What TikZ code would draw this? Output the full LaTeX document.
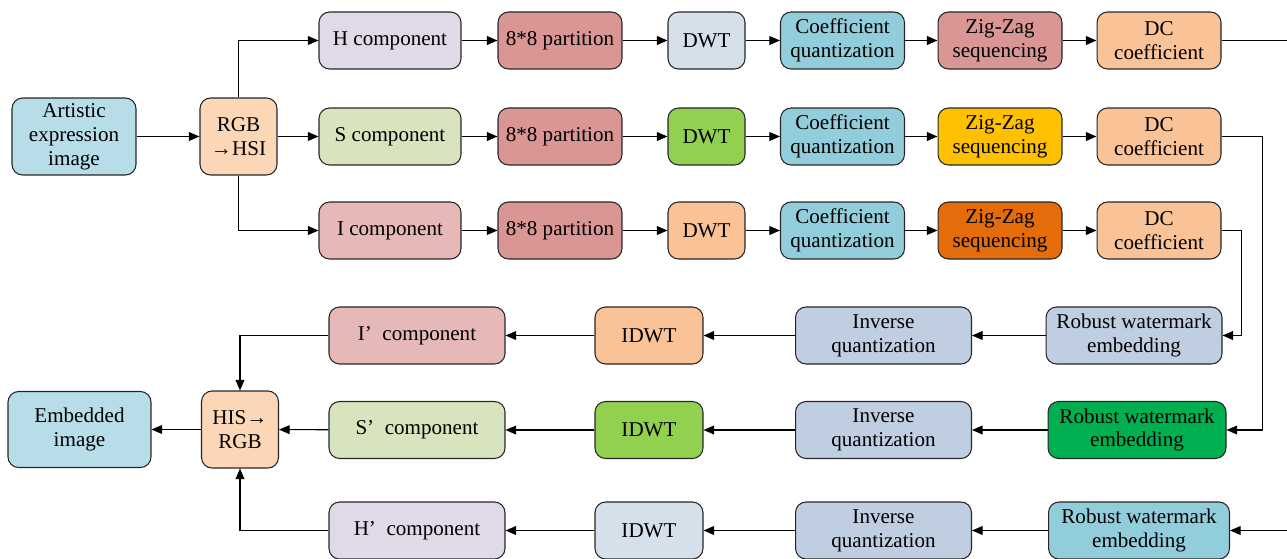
\documentclass[tikz,border=0pt]{standalone}
\usepackage{fontspec}
\setmainfont{Liberation Serif}
\usetikzlibrary{arrows.meta}
\definecolor{imgblue}{HTML}{B7DDE8}
\definecolor{convpeach}{HTML}{FBD7B8}
\definecolor{hlav}{HTML}{E0D9E7}
\definecolor{rose}{HTML}{D99694}
\definecolor{paleblue}{HTML}{D6E0EB}
\definecolor{teal}{HTML}{92CDDC}
\definecolor{dcpeach}{HTML}{FAC397}
\definecolor{sgreen}{HTML}{D7E4BD}
\definecolor{lime}{HTML}{92D050}
\definecolor{amber}{HTML}{FFC000}
\definecolor{ipink}{HTML}{E6B9B8}
\definecolor{deeporange}{HTML}{E46C0A}
\definecolor{greyblue}{HTML}{C0CEE2}
\definecolor{wmgreen}{HTML}{00B050}
\begin{document}
\begin{tikzpicture}[x=0.02cm,y=-0.02cm]
  \useasboundingbox (0,0) rectangle (1287,558);
  \clip (0,0) rectangle (1287,558);
  \tikzset{cw/.style={minimum width=2.84cm},
    bw/.style={minimum width=2.48cm},
    dw/.style={minimum width=1.54cm},
    pw/.style={minimum width=3.52cm},
    iw/.style={minimum width=2.16cm}}
  \begin{scope}[every node/.style={draw=black!85,line width=0.6pt,rounded corners=6pt,
      align=center,inner sep=1pt,minimum height=1.14cm,
      font=\fontsize{12}{13.6}\selectfont}]
  % input side
  \node[fill=imgblue,bw,minimum height=1.54cm] (art) at (74,136.5) {Artistic\\expression\\image};
  \node[fill=convpeach,dw,minimum height=1.54cm] (rgb) at (238.5,136.5) {RGB\\→HSI};
  % H row
  \node[fill=hlav,cw] (hc) at (390,40.5) {H component};
  \node[fill=rose,bw] (hp) at (560,40.5) {8*8 partition};
  \node[fill=paleblue,dw] (hd) at (706.5,40.5) {DWT};
  \node[fill=teal,bw] (hq) at (842.5,40.5) {Coefficient\\quantization};
  \node[fill=rose,bw] (hz) at (1000,40.5) {Zig-Zag\\sequencing};
  \node[fill=dcpeach,bw] (hdc) at (1159,40.5) {DC\\coefficient};
  % S row
  \node[fill=sgreen,cw] (sc) at (390,136.5) {S component};
  \node[fill=rose,bw] (sp) at (560,136.5) {8*8 partition};
  \node[fill=lime,dw] (sd) at (706.5,136.5) {DWT};
  \node[fill=teal,bw] (sq) at (842.5,136.5) {Coefficient\\quantization};
  \node[fill=amber,bw] (sz) at (1000,136.5) {Zig-Zag\\sequencing};
  \node[fill=dcpeach,bw] (sdc) at (1159,136.5) {DC\\coefficient};
  % I row
  \node[fill=ipink,cw] (ic) at (390,230.5) {I component};
  \node[fill=rose,bw] (ip) at (560,230.5) {8*8 partition};
  \node[fill=dcpeach,dw] (id) at (706.5,230.5) {DWT};
  \node[fill=teal,bw] (iq) at (842.5,230.5) {Coefficient\\quantization};
  \node[fill=deeporange,bw] (iz) at (1000,230.5) {Zig-Zag\\sequencing};
  \node[fill=dcpeach,bw] (idc) at (1159,230.5) {DC\\coefficient};
  % embedding rows
  \node[fill=greyblue,pw] (iwm) at (1134,335.5) {Robust watermark\\embedding};
  \node[fill=greyblue,pw] (iinv) at (883.5,335.5) {Inverse\\quantization};
  \node[fill=dcpeach,iw] (iidwt) at (649,335.5) {IDWT};
  \node[fill=ipink,pw] (inew) at (417,335.5) {I’\enspace component};
  \node[fill=wmgreen,pw,minimum width=3.56cm] (swm) at (1137,430) {Robust watermark\\embedding};
  \node[fill=greyblue,pw] (sinv) at (883.5,430) {Inverse\\quantization};
  \node[fill=lime,iw] (sidwt) at (649,430) {IDWT};
  \node[fill=sgreen,pw] (snew) at (417,430) {S’\enspace component};
  \node[fill=teal,pw,minimum width=3.62cm] (hwm) at (1139,530.5) {Robust watermark\\embedding};
  \node[fill=greyblue,pw] (hinv) at (883.5,530.5) {Inverse\\quantization};
  \node[fill=paleblue,iw] (hidwt) at (649,530.5) {IDWT};
  \node[fill=hlav,pw] (hnew) at (417,530.5) {H’\enspace component};
  % output side
  \node[fill=convpeach,dw,minimum height=1.54cm] (his) at (240,429.5) {HIS→\\RGB};
  \node[fill=imgblue,minimum width=2.86cm,minimum height=1.52cm] (emb) at (79.5,429.5) {Embedded\\image};
  \end{scope}
  \coordinate (hout) at (1287,40.5);
  \coordinate (hin) at (1287,530.5);
  \begin{scope}[every edge/.style={draw=black,line width=0.6pt,-{Triangle[length=6pt,width=5pt]}}]
  \path (art) edge (rgb);
  \path (rgb) edge (sc);
  \path (rgb.north) edge[to path={|- (\tikztotarget)}] (hc);
  \path (rgb.south) edge[to path={|- (\tikztotarget)}] (ic);
  \path (hc) edge (hp) (hp) edge (hd) (hd) edge (hq) (hq) edge (hz) (hz) edge (hdc);
  \path (sc) edge (sp) (sp) edge (sd) (sd) edge (sq) (sq) edge (sz) (sz) edge (sdc);
  \path (ic) edge (ip) (ip) edge (id) (id) edge (iq) (iq) edge (iz) (iz) edge (idc);
  \path (hdc) edge[-] (hout);
  \path (sdc.east) edge[to path={-- ++(41,0) |- (\tikztotarget)}] (swm.east);
  \path (idc.east) edge[to path={-- ++(20,0) |- (\tikztotarget)}] (iwm.east);
  \path (hin) edge (hwm);
  \path (iwm) edge (iinv) (iinv) edge (iidwt) (iidwt) edge (inew);
  \path (swm) edge (sinv) (sinv) edge (sidwt) (sidwt) edge (snew);
  \path (hwm) edge (hinv) (hinv) edge (hidwt) (hidwt) edge (hnew);
  \path (inew.west) edge[to path={-| (\tikztotarget)}] (his.north);
  \path (snew) edge (his);
  \path (hnew.west) edge[to path={-| (\tikztotarget)}] (his.south);
  \path (his) edge (emb);
  \end{scope}
\end{tikzpicture}
\end{document}
